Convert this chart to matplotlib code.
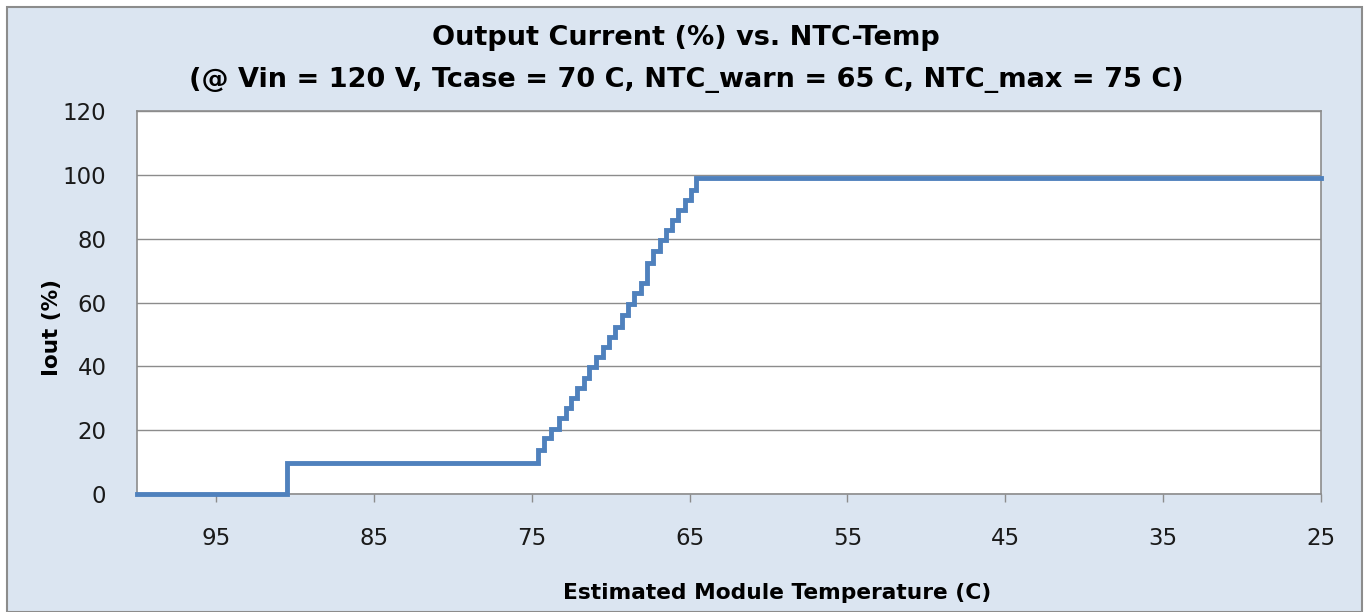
import matplotlib
matplotlib.use("Agg")
import matplotlib.pyplot as plt
from matplotlib.patches import Rectangle

# Data (temperature in C, output current in %)
temp_c = [100.0, 90.5, 75.0, 74.6, 74.2, 73.75, 73.3, 72.8, 72.5, 72.1, 71.7, 71.35,
          70.9, 70.5, 70.1, 69.7, 69.3, 68.9, 68.5, 68.1, 67.7, 67.3, 66.9, 66.5,
          66.1, 65.7, 65.3, 64.9, 64.6, 25.0]
iout_pct = [0.0, 9.7, 9.7, 13.8, 17.5, 20.3, 23.7, 26.9, 30.0, 33.1, 36.3, 39.9,
            43.0, 46.2, 49.3, 52.4, 56.1, 59.5, 62.9, 66.0, 72.3, 76.0, 79.6, 82.8,
            85.9, 89.0, 92.2, 95.3, 99.0, 99.0]
x_ticks = [95, 85, 75, 65, 55, 45, 35, 25]
y_ticks = [0, 20, 40, 60, 80, 100, 120]

title_line1 = "Output Current (%) vs. NTC-Temp"
title_line2 = "(@ Vin = 120 V, Tcase = 70 C, NTC_warn = 65 C, NTC_max = 75 C)"
x_label = "Estimated Module Temperature (C)"
y_label = "Iout (%)"

W, H = 1364, 612
fig = plt.figure(figsize=(W / 100, H / 100), dpi=100)
fig.patch.set_facecolor("white")
font = ["DejaVu Sans"]

# chart area background with border
fig.patches.append(Rectangle((7 / W, 0), (1362 - 7) / W, 1 - 7 / H, transform=fig.transFigure,
                             facecolor="#DBE5F1", edgecolor="#8C8C8C", linewidth=1.5, zorder=-10))

ax = fig.add_axes([137 / W, 1 - 494 / H, (1321 - 137) / W, (494 - 111) / H])
ax.set_facecolor("white")
ax.plot(temp_c, iout_pct, drawstyle="steps-post", color="#4F81BD", linewidth=3.5,
        solid_joinstyle="miter", zorder=3, clip_on=False)
ax.set_xlim(100, 25)
ax.set_ylim(0, 120)
ax.set_xticks(x_ticks)
ax.set_yticks(y_ticks)
ax.grid(axis="y", color="#8C8C8C", linewidth=1.0)
ax.set_axisbelow(True)
for s in ax.spines.values():
    s.set_color("#8C8C8C")
    s.set_linewidth(1.2)
ax.tick_params(axis="x", direction="out", length=6, width=1, color="#8C8C8C", pad=18,
               labelsize=16.5)
ax.tick_params(axis="y", length=0, pad=22, labelsize=16.5)
for lab in ax.get_xticklabels() + ax.get_yticklabels():
    lab.set_fontfamily(font)
    lab.set_color("#1A1A1A")

fig.text(686 / W, 1 - 38 / H, title_line1, ha="center", va="center", fontsize=19.5,
         fontweight="bold", family=font)
fig.text(686 / W, 1 - 80 / H, title_line2, ha="center", va="center", fontsize=19.5,
         fontweight="bold", family=font)
fig.text(777 / W, 1 - 593 / H, x_label, ha="center", va="center", fontsize=15.7,
         fontweight="bold", family=font)
fig.text(52 / W, 1 - 327 / H, y_label, ha="center", va="center", fontsize=15.5,
         fontweight="bold", family=font, rotation=90)

fig.savefig("out.png", dpi=100)
